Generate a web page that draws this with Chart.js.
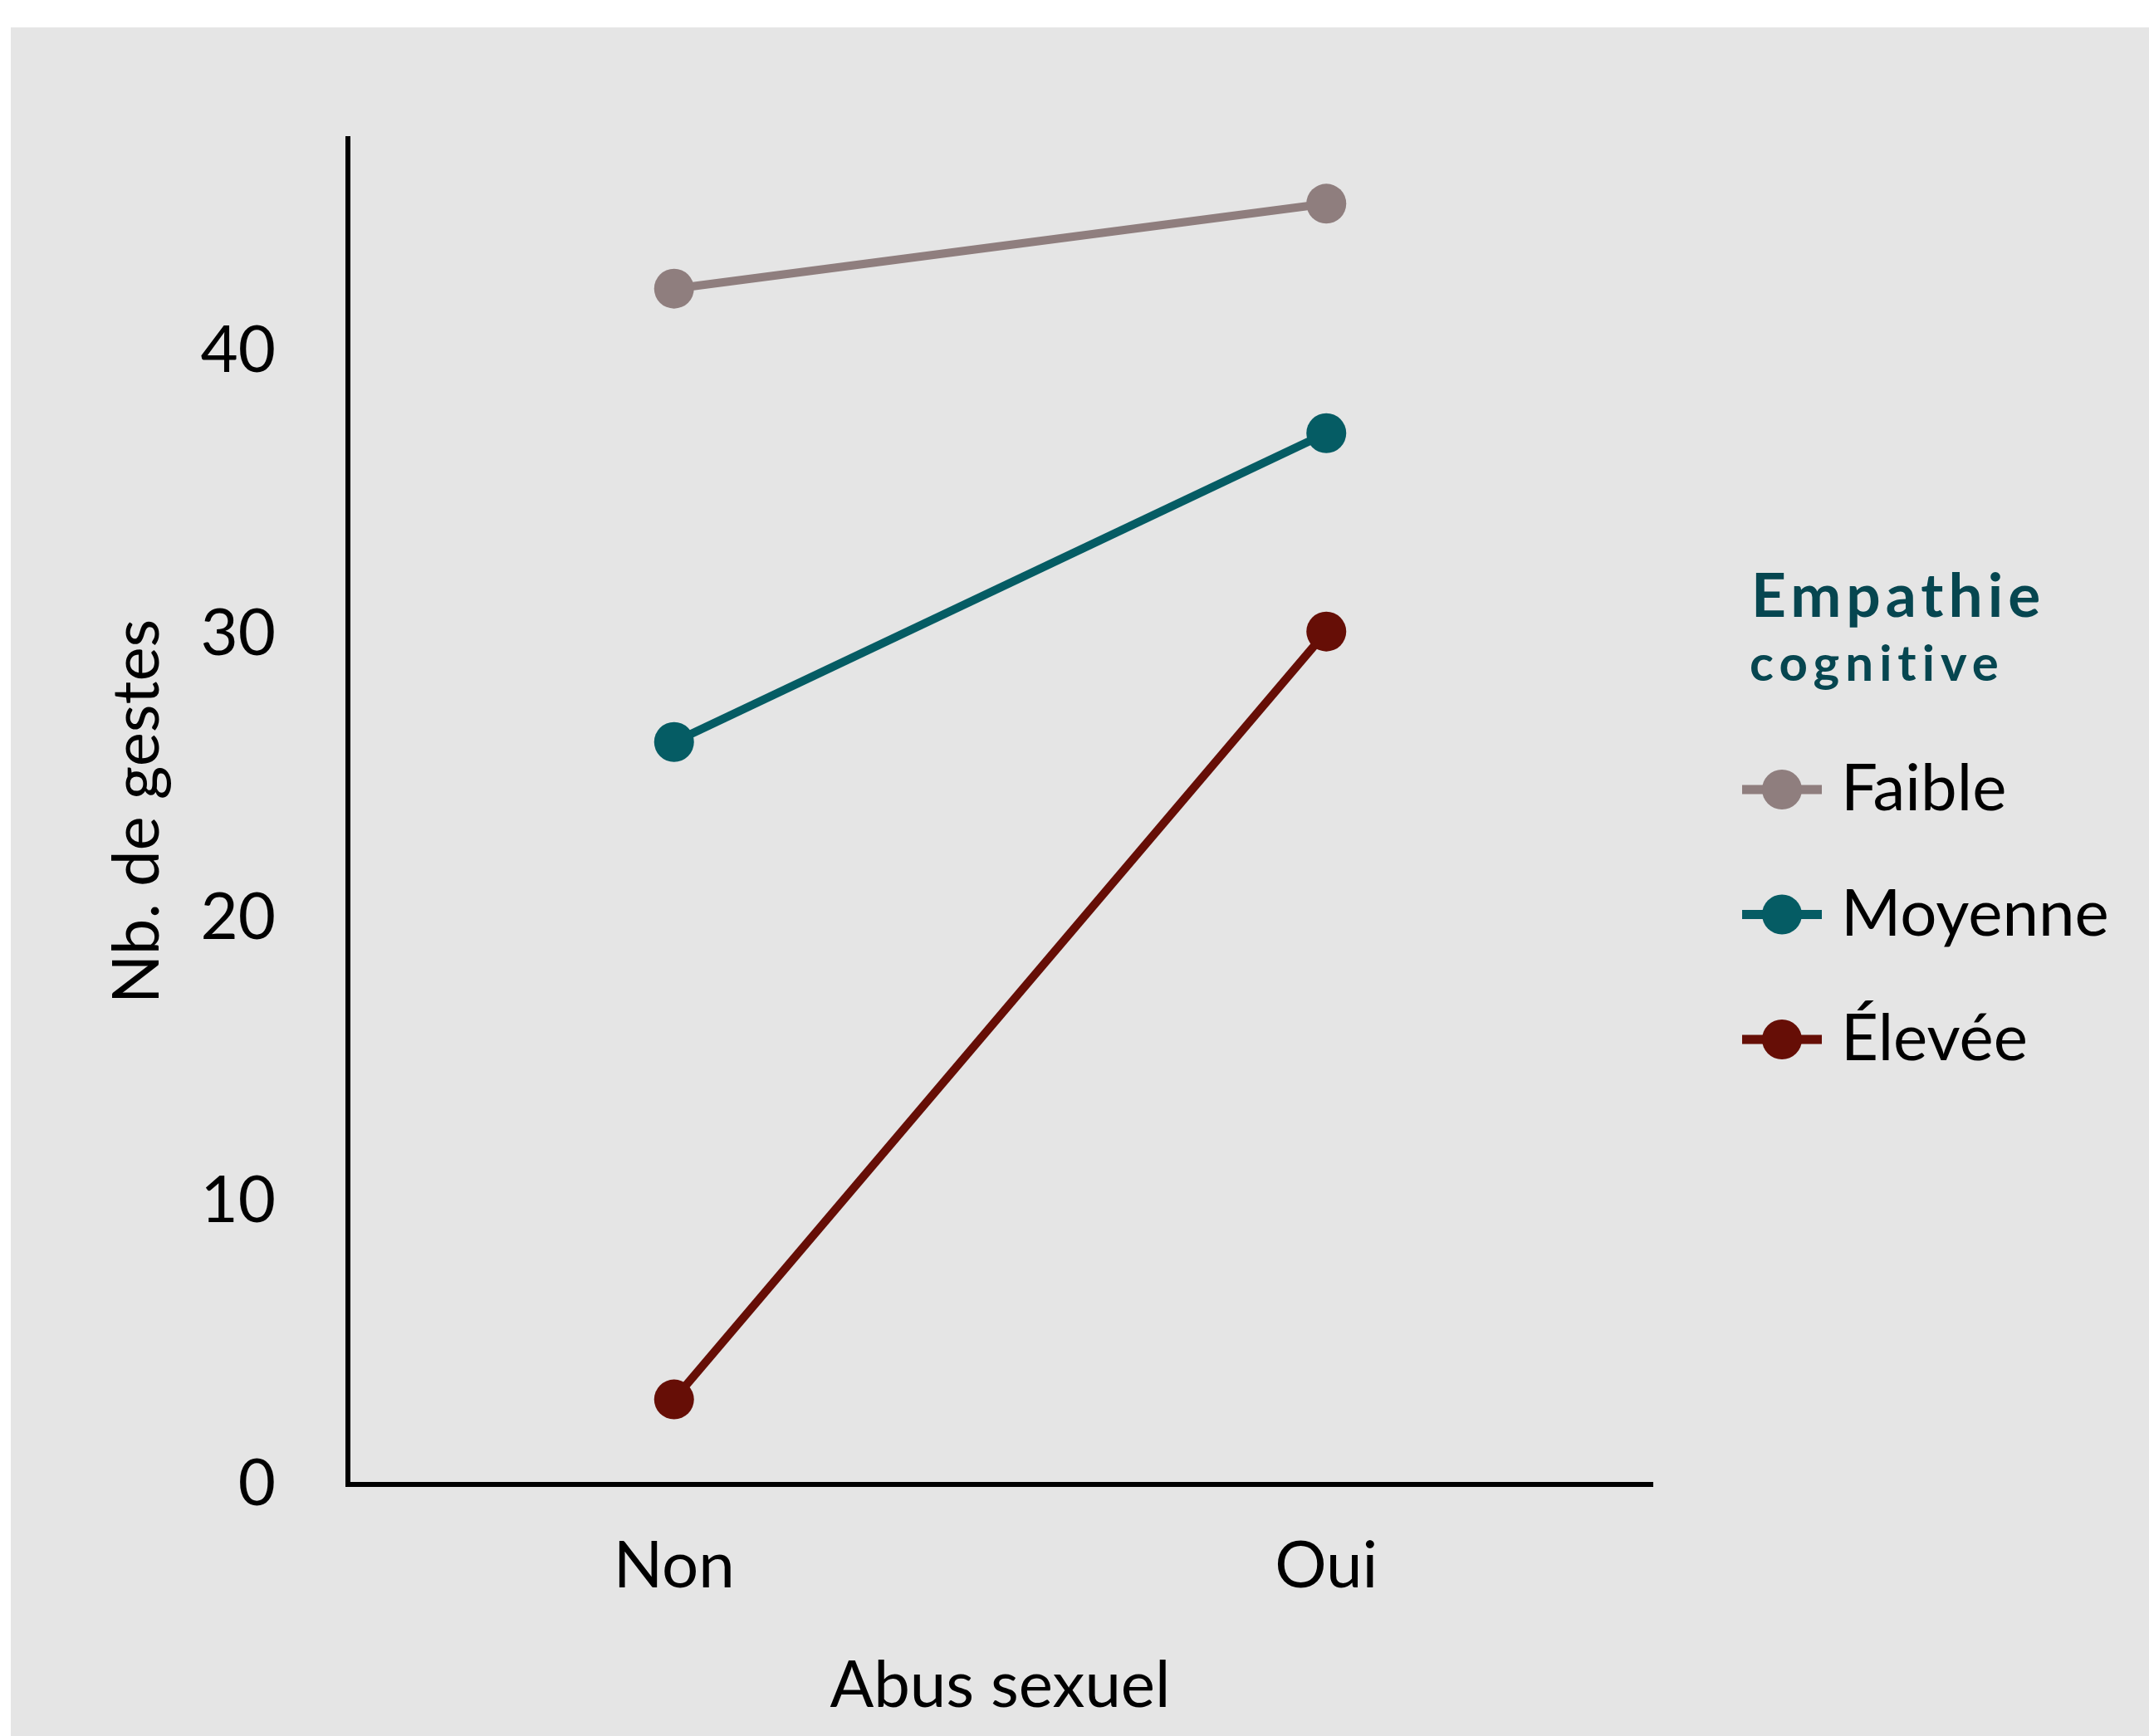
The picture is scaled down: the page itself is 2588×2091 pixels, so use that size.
<!DOCTYPE html>
<html>
<head>
<meta charset="utf-8">
<script src="https://cdn.jsdelivr.net/npm/chart.js@4.4.1/dist/chart.umd.min.js"></script>
<style>
  html, body { margin: 0; padding: 0; background: #fff; overflow: hidden; }
  #wrap { position: absolute; left: 13px; top: 33px; width: 2575px; height: 2058px; background: #e5e5e5; }
  canvas { display: block; }
</style>
</head>
<body>
<div id="wrap"><canvas id="chart" width="2575" height="2058"></canvas></div>
<script>
const categories = ["Non", "Oui"];
const seriesNames = ["Faible", "Moyenne", "Élevée"];
const faible = [42.2, 45.2];
const moyenne = [26.2, 37.1];
const elevee = [3.0, 30.1];
const yTicks = [0, 10, 20, 30, 40];
const legendTitle = ["Empathie", "cognitive"];
const colors = ["#8f7e7e", "#055c64", "#660e06"];

Chart.defaults.font.family = "Lato";
Chart.defaults.color = "#000";

// legend on the right: line + dot, with a two line bold title
const sideLegend = {
  id: "sideLegend",
  afterDraw(chart) {
    const ctx = chart.ctx;
    ctx.save();
    ctx.fillStyle = "#064650";
    ctx.textAlign = "left";
    ctx.textBaseline = "alphabetic";
    ctx.font = "bold 73px Lato";
    ctx.letterSpacing = "6px";
    ctx.fillText(legendTitle[0], 2096, 710);
    ctx.font = "bold 60px Lato";
    ctx.letterSpacing = "7px";
    ctx.fillText(legendTitle[1], 2094, 787);
    ctx.letterSpacing = "0px";

    chart.data.datasets.forEach((ds, i) => {
      const y = 918 + i * 150.5;
      ctx.strokeStyle = ds.borderColor;
      ctx.lineWidth = 11;
      ctx.beginPath();
      ctx.moveTo(2085, y);
      ctx.lineTo(2181, y);
      ctx.stroke();
      ctx.fillStyle = ds.borderColor;
      ctx.beginPath();
      ctx.arc(2133, y, 24, 0, Math.PI * 2);
      ctx.fill();
      ctx.fillStyle = "#000";
      ctx.font = "78px Lato";
      ctx.textBaseline = "middle";
      ctx.fillText(ds.label, 2204, y);
    });
    ctx.restore();
  }
};

const ctx = document.getElementById("chart").getContext("2d");
new Chart(ctx, {
  type: "line",
  data: {
    labels: categories,
    datasets: [faible, moyenne, elevee].map((vals, i) => ({
      label: seriesNames[i],
      data: vals,
      borderColor: colors[i],
      backgroundColor: colors[i],
      pointBackgroundColor: colors[i],
      pointBorderColor: colors[i],
      borderWidth: 10,
      pointRadius: 24,
      pointBorderWidth: 0,
      tension: 0,
      clip: false
    }))
  },
  options: {
    responsive: false,
    devicePixelRatio: 1,
    animation: false,
    layout: { padding: { top: 132, right: 598, left: 0, bottom: 0 } },
    plugins: {
      legend: { display: false },
      tooltip: { enabled: false }
    },
    scales: {
      x: {
        offset: true,
        grid: { display: false, drawTicks: false },
        border: { display: true, color: "#000", width: 6 },
        ticks: { font: { size: 78 }, padding: 52, color: "#000" },
        title: { display: true, text: "Abus sexuel", font: { size: 78 }, color: "#000", padding: { top: 0, bottom: 13 } },
        afterFit(scale) { scale.height = 303; }
      },
      y: {
        min: 0,
        max: 47.5,
        grid: { display: false, drawTicks: false },
        border: { display: true, color: "#000", width: 6 },
        ticks: { font: { size: 78 }, padding: 87, color: "#000" },
        afterBuildTicks(scale) { scale.ticks = yTicks.map(v => ({ value: v })); },
        title: { display: true, text: "Nb. de gestes", font: { size: 78 }, color: "#000", padding: { top: 106, bottom: 0 } },
        afterFit(scale) { scale.width = 406; }
      }
    }
  },
  plugins: [sideLegend]
});
</script>
</body>
</html>
